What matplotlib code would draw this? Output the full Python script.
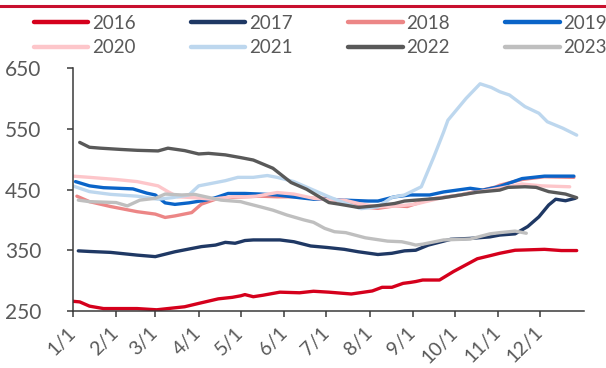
import matplotlib
matplotlib.use("Agg")
import matplotlib.pyplot as plt
from matplotlib.lines import Line2D

plt.rcParams["font.family"] = ["Lato", "DejaVu Sans"]

# Day-of-year positions (0 = Jan 1) and price levels for each year
years = ["2016", "2017", "2018", "2019", "2020", "2021", "2022", "2023"]

days_2016 = [0, 5, 12, 22, 46, 60, 68, 80, 90, 104, 114, 120, 123, 129, 136, 148, 162, 172, 183,
             199, 214, 221, 228, 236, 241, 245, 250, 262, 272, 289, 298, 305, 316, 337, 349, 360]
vals_2016 = [266, 265, 258, 254, 254, 252, 254, 257, 262.5, 270, 272.5, 275, 277, 273.5, 276, 281, 280,
             282.5, 281, 278, 283, 289, 289, 295.5, 297, 298.5, 301, 301, 315, 336, 341, 345, 350,
             351.5, 349.5, 349.5]

days_2017 = [4, 12, 27, 46, 59, 73, 83, 92, 102, 109, 116, 120, 123, 129, 148, 158, 170, 182, 194,
             204, 218, 228, 237, 245, 254, 270, 284, 298, 305, 316, 325, 333, 340, 345, 352, 359]
vals_2017 = [349, 348, 346.5, 342, 339.5, 347.5, 352, 356, 358.5, 363, 361.5, 364, 366, 367, 367, 364,
             357, 354.5, 351.5, 347.5, 343, 345, 349, 350, 358.5, 368, 369.5, 372, 375, 377, 389, 405,
             424.5, 434, 431.5, 435.5]

days_2018 = [3, 12, 27, 46, 59, 66, 73, 85, 92, 102, 114, 123, 134, 146, 160, 172, 180, 184, 194,
             206, 218, 230, 239, 243, 255, 277, 302, 305, 321, 337, 358]
vals_2018 = [439, 430, 422, 413.5, 409.5, 404, 406.5, 412, 426, 434, 437, 438, 439, 438, 438, 435.5,
             435.5, 434, 430, 421.5, 419, 423, 422, 425, 434, 441, 454, 457, 466.5, 471, 470]

days_2019 = [2, 12, 22, 43, 53, 59, 66, 73, 83, 95, 102, 111, 123, 134, 146, 162, 172, 183, 194,
             211, 218, 230, 241, 255, 265, 284, 293, 305, 321, 337, 358]
vals_2019 = [463, 456, 453, 451, 444, 441, 428, 425.5, 428, 432.5, 436.5, 443.5, 443.5, 442.5, 441,
             436.5, 434, 434, 432.5, 431, 431, 438, 441, 441, 446, 452, 449, 455, 468, 472, 472]

days_2020 = [0, 12, 31, 46, 61, 68, 75, 87, 99, 114, 123, 131, 146, 158, 172, 183, 194, 206, 218,
             233, 245, 262, 305, 321, 335, 355]
vals_2020 = [472, 470, 466.5, 463, 456, 446.5, 438, 436.5, 434, 438, 438, 439, 445, 442.5, 435.5, 433,
             432.5, 426, 421.5, 423, 426, 435.5, 452, 459, 456, 454.5]

days_2021 = [0, 12, 27, 46, 61, 71, 83, 90, 99, 109, 118, 129, 139, 146, 158, 172, 183, 194, 206,
             218, 228, 237, 249, 258, 265, 268, 281, 291, 299, 305, 312, 323, 333, 339, 350, 360]
vals_2021 = [456, 446.5, 442, 439, 434, 436.5, 441, 456, 460, 464.5, 470, 470, 473, 470, 463, 449,
             438, 428, 418.5, 421.5, 437, 441, 454.5, 504, 545, 564, 600, 624, 618, 611, 605.5, 586.5,
             575.5, 561.5, 551, 539.5]

days_2022 = [5, 12, 20, 34, 46, 61, 68, 80, 90, 97, 109, 120, 129, 143, 156, 167, 183, 190, 204,
             218, 230, 237, 245, 262, 277, 289, 305, 311, 323, 331, 340, 352, 360]
vals_2022 = [527.5, 519.5, 518, 516, 514.5, 513.5, 518, 514, 508.5, 509.5, 507, 502.5, 498.5, 485,
             461.5, 450.5, 428.5, 426, 420.5, 423.5, 427, 431, 432.5, 435.5, 441, 445.5, 449, 453.5,
             454.5, 453.5, 446.5, 442.5, 436.5]

days_2023 = [4, 12, 31, 39, 48, 59, 66, 78, 87, 97, 106, 120, 123, 134, 143, 153, 165, 172, 180,
             187, 195, 209, 225, 235, 241, 245, 250, 265, 284, 298, 305, 316, 324]
vals_2023 = [432.5, 430, 428.5, 423, 432.5, 435.5, 442.5, 441, 442, 437, 432.5, 430, 428, 421.5, 416,
             408, 400, 396, 386, 380.5, 379, 370.5, 365, 364, 361, 358.5, 360, 367, 368.5, 377, 379,
             381.5, 378]

colors = ["#D5001C", "#1F3864", "#EC8686", "#0A64C8", "#FDC6CA", "#BDD7EE", "#595959", "#BFBFBF"]

series = [
    (days_2016, vals_2016), (days_2017, vals_2017), (days_2018, vals_2018), (days_2019, vals_2019),
    (days_2020, vals_2020), (days_2021, vals_2021), (days_2022, vals_2022), (days_2023, vals_2023),
]

month_starts = [0, 31, 59, 90, 120, 151, 181, 212, 243, 273, 304, 334]
month_labels = ["1/1", "2/1", "3/1", "4/1", "5/1", "6/1", "7/1", "8/1", "9/1", "10/1", "11/1", "12/1"]
y_ticks = [250, 350, 450, 550, 650]

W, H = 606, 368
fig = plt.figure(figsize=(W / 100, H / 100), dpi=100)
ax = fig.add_axes([72.7 / W, (H - 311) / H, 511 / W, (311 - 68) / H])

lines = []
for (d, v), c, lab in zip(series, colors, years):
    ln, = ax.plot(d, v, color=c, lw=2.4, label=lab, solid_capstyle="round", solid_joinstyle="round")
    lines.append(ln)

ax.set_xlim(0, 365)
ax.set_ylim(250, 650)
ax.set_xticks(month_starts)
ax.set_xticklabels(month_labels, rotation=45, ha="right", va="center", rotation_mode="anchor")
ax.set_yticks(y_ticks)

for side in ("top", "right"):
    ax.spines[side].set_visible(False)
for side in ("left", "bottom"):
    ax.spines[side].set_color("#3a3a3a")
    ax.spines[side].set_linewidth(1.1)

ax.tick_params(axis="y", direction="out", length=4.5, width=1.1, color="#3a3a3a",
               labelsize=15, labelcolor="#595959", pad=18)
ax.tick_params(axis="x", direction="out", length=4.5, width=1.1, color="#3a3a3a",
               labelsize=14, labelcolor="#595959", pad=9)

# Legend: two rows of four, filled row by row
order = [0, 4, 1, 5, 2, 6, 3, 7]
fig.legend([lines[i] for i in order], [years[i] for i in order], ncol=4, loc="upper left",
           bbox_to_anchor=(34 / W, 1 - 15 / H), frameon=False, fontsize=13.5,
           handlelength=2.9, handletextpad=0.2, columnspacing=2.95, labelspacing=0.38,
           borderpad=0, borderaxespad=0, labelcolor="#595959")
for lh in fig.legends[0].get_lines():
    lh.set_linewidth(3.2)

# Decorative rule across the top
fig.add_artist(Line2D([0, 1], [1 - 6 / H, 1 - 6 / H], transform=fig.transFigure,
                      color="#C8102E", lw=2.2))

fig.savefig("out.png", dpi=100)
